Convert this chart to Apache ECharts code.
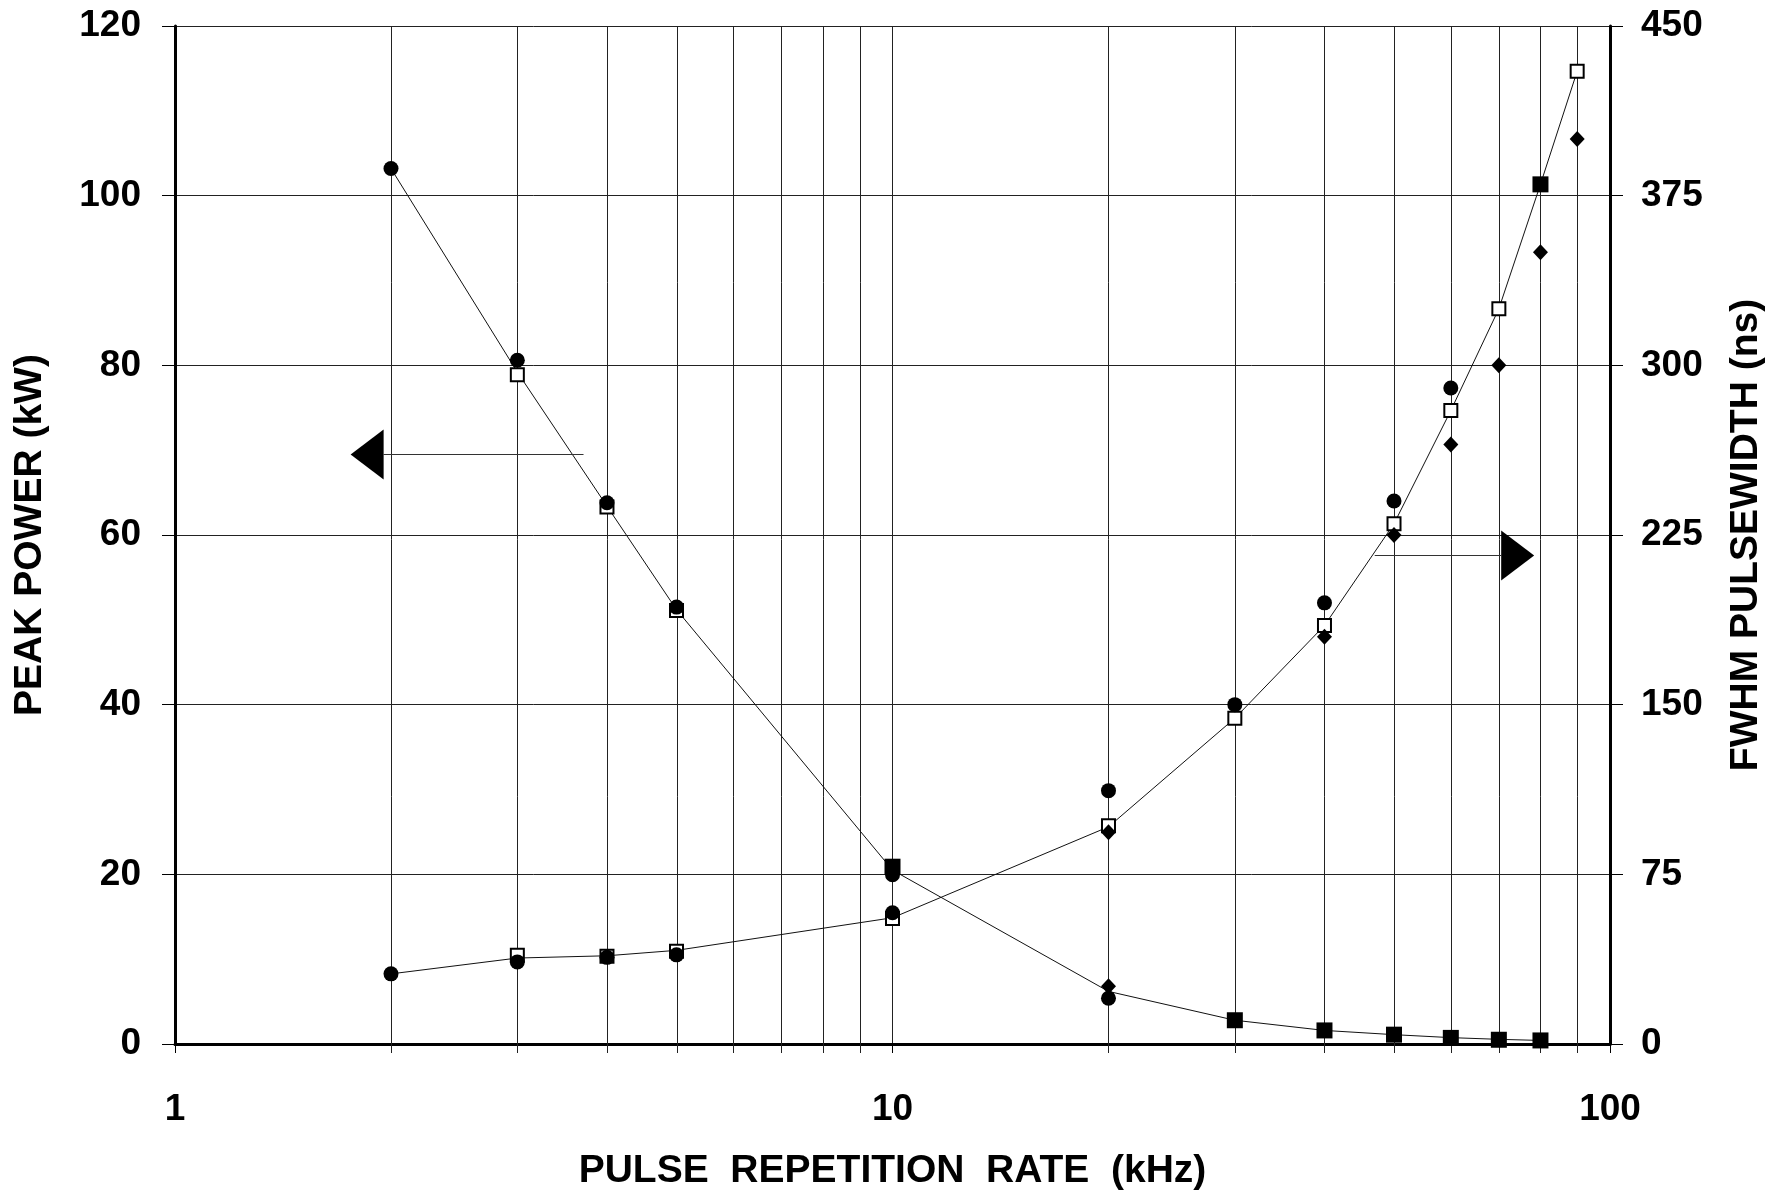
<!DOCTYPE html>
<html><head><meta charset="utf-8">
<script src="https://cdn.jsdelivr.net/npm/echarts@6/dist/echarts.min.js"></script>
<style>html,body{margin:0;padding:0;background:#fff}#c{width:1774px;height:1196px}</style>
</head><body><div id="c"></div>
<script>
// ---- axes ----
const xMin = 1, xMax = 100;
const xMinorGrid = [2,3,4,5,6,7,8,9,20,30,40,50,60,70,80,90];
const leftMin = 0, leftMax = 120, leftStep = 20;
const rightMin = 0, rightMax = 450, rightStep = 75;

// ---- Peak power (kW), left axis ----
const peakLineX = [2,3,4,5,10,20,30,40,50,60,70,80];
const peakLineY = [103.2,79.2,63.4,51.2,20.5,6.2,2.8,1.6,1.1,0.75,0.55,0.42];
const peakCircleX = [2,3,4,5,10,20];
const peakCircleY = [103.2,80.6,63.8,51.5,19.95,5.4];
const peakOpenSqX = [3,4,5];
const peakOpenSqY = [78.9,63.3,51.1];
const peakFilledSqX = [10,30,40,50,60,70,80];
const peakFilledSqY = [20.9,2.8,1.6,1.1,0.72,0.5,0.42];
const peakDiamondX = [20];
const peakDiamondY = [6.8];

// ---- FWHM pulsewidth (ns), right axis ----
const pwLineX = [2,3,4,5,10,20,30,40,50,60,70,80,90];
const pwLineY = [31,38,39,41.4,55.8,96,144,185,230,280,325,380,430];
const pwCircleX = [2,3,4,5,10,20,30,40,50,60];
const pwCircleY = [31,36.3,38.3,39.4,58,112,150,195,240,290];
const pwOpenSqX = [3,4,5,10,20,30,40,50,60,70,90];
const pwOpenSqY = [39.2,38.8,41,55.5,96.5,144,185,230,280,325,430];
const pwDiamondX = [20,40,50,60,70,80,90];
const pwDiamondY = [93.6,180,225,265,300,350,400];
const pwFilledSqX = [80];
const pwFilledSqY = [380];

// ---- arrow annotations: [tip kHz, tail kHz, level] ----
const leftArrow = [1.757, 3.71, 69.6];   // kW (left axis)
const rightArrow = [78.4, 47.0, 216];    // ns (right axis)

const zip = (xs, ys) => xs.map((x, i) => [x, ys[i]]);
const FONT = 'Liberation Sans';
const labelStyle = {fontSize: 37, fontWeight: 'bold', fontFamily: FONT, color: '#000'};
const nameStyle = {fontSize: 39, fontWeight: 'bold', fontFamily: FONT, color: '#000'};

function gridItem(params, api) {
  const v = api.value(0);
  const top = api.coord([v, leftMax]);
  const bot = api.coord([v, leftMin]);
  const x = Math.round(top[0]) + 0.5;
  return {type: 'line', shape: {x1: x, y1: top[1], x2: x, y2: bot[1] + 9},
          style: {stroke: '#222', lineWidth: 1}};
}
function arrowItem(params, api) {
  const tip = api.coord([api.value(0), api.value(2)]);
  const tail = api.coord([api.value(1), api.value(2)]);
  const dir = Math.sign(tail[0] - tip[0]);
  const baseX = tip[0] + dir * 33;
  const y = Math.round(tip[1]) + 0.5;
  return {type: 'group', children: [
    {type: 'line', shape: {x1: tail[0], y1: y, x2: baseX, y2: y}, style: {stroke: '#333', lineWidth: 1}},
    {type: 'polygon', shape: {points: [[tip[0], y], [baseX, y - 25], [baseX, y + 25]]}, style: {fill: '#000'}}
  ]};
}

function scatter(name, data, yIdx, symbol, size, filled, z) {
  return {name, type: 'scatter', yAxisIndex: yIdx, data, symbol, symbolSize: size, z,
    itemStyle: filled ? {color: '#000', opacity: 1} : {color: '#fff', borderColor: '#000', borderWidth: 2, opacity: 1},
    emphasis: {disabled: true}, silent: true};
}

const chart = echarts.init(document.getElementById('c'), null, {renderer: 'canvas'});
chart.setOption({
  animation: false,
  backgroundColor: '#fff',
  grid: {left: 175, right: 162, top: 26, bottom: 150.5, containLabel: false},
  xAxis: {
    type: 'log', logBase: 10, min: xMin, max: xMax,
    axisLine: {show: true, onZero: false, lineStyle: {color: '#000', width: 3}},
    axisTick: {show: true, inside: false, length: 9, lineStyle: {color: '#000', width: 1}},
    axisLabel: Object.assign({margin: 47}, labelStyle),
    splitLine: {show: true, lineStyle: {color: '#222', width: 1}},
    name: 'PULSE  REPETITION  RATE  (kHz)', nameLocation: 'middle', nameGap: 108,
    nameTextStyle: nameStyle
  },
  yAxis: [{
    type: 'value', min: leftMin, max: leftMax, interval: leftStep, position: 'left',
    axisLine: {show: true, lineStyle: {color: '#000', width: 3}},
    axisTick: {show: true, length: 13, lineStyle: {color: '#000', width: 1}},
    axisLabel: Object.assign({margin: 34}, labelStyle),
    splitLine: {show: true, lineStyle: {color: '#222', width: 1}},
    name: 'PEAK POWER (kW)', nameLocation: 'middle', nameRotate: 90, nameGap: 125,
    nameTextStyle: nameStyle
  }, {
    type: 'value', min: rightMin, max: rightMax, interval: rightStep, position: 'right',
    axisLine: {show: true, lineStyle: {color: '#000', width: 3}},
    axisTick: {show: true, length: 13, lineStyle: {color: '#000', width: 1}},
    axisLabel: Object.assign({margin: 31}, labelStyle),
    splitLine: {show: false},
    name: 'FWHM PULSEWIDTH (ns)', nameLocation: 'middle', nameRotate: 90, nameGap: 117,
    nameTextStyle: nameStyle
  }],
  series: [
    {type: 'custom', name: 'minorGrid', yAxisIndex: 0, z: 1, silent: true,
     data: xMinorGrid.map(v => [v, leftMin]), encode: {x: 0, y: 1}, renderItem: gridItem},
    {type: 'line', name: 'peakLine', yAxisIndex: 0, data: zip(peakLineX, peakLineY), symbol: 'none',
     lineStyle: {color: '#111', width: 1}, z: 3, silent: true},
    {type: 'line', name: 'pwLine', yAxisIndex: 1, data: zip(pwLineX, pwLineY), symbol: 'none',
     lineStyle: {color: '#111', width: 1}, z: 3, silent: true},
    scatter('peakOpenSq', zip(peakOpenSqX, peakOpenSqY), 0, 'rect', 13, false, 4),
    scatter('pwOpenSq', zip(pwOpenSqX, pwOpenSqY), 1, 'rect', 13, false, 4),
    scatter('peakDiamond', zip(peakDiamondX, peakDiamondY), 0, 'diamond', [15, 16], true, 5),
    scatter('pwDiamond', zip(pwDiamondX, pwDiamondY), 1, 'diamond', [15, 16], true, 5),
    scatter('peakFilledSq', zip(peakFilledSqX, peakFilledSqY), 0, 'rect', 16, true, 5),
    scatter('pwFilledSq', zip(pwFilledSqX, pwFilledSqY), 1, 'rect', 16, true, 5),
    scatter('peakCircle', zip(peakCircleX, peakCircleY), 0, 'circle', 15, true, 6),
    scatter('pwCircle', zip(pwCircleX, pwCircleY), 1, 'circle', 15, true, 6),
    {type: 'custom', name: 'leftArrow', yAxisIndex: 0, z: 7, silent: true,
     data: [leftArrow], encode: {x: [0, 1], y: 2}, renderItem: arrowItem},
    {type: 'custom', name: 'rightArrow', yAxisIndex: 1, z: 7, silent: true,
     data: [rightArrow], encode: {x: [0, 1], y: 2}, renderItem: arrowItem}
  ]
});
</script>
</body></html>
